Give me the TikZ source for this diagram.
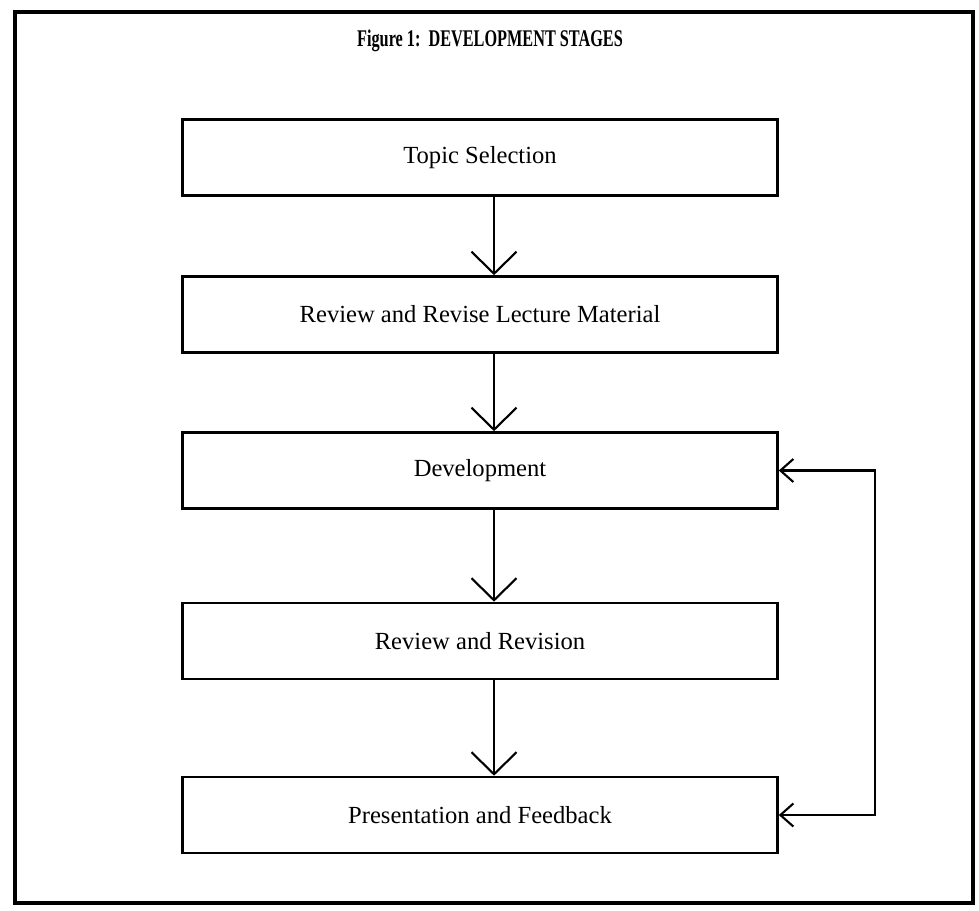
\documentclass[tikz,border=0pt]{standalone}
\usepackage{fontspec}
\setmainfont{Liberation Serif}
\newfontfamily\titlefont[FakeStretch=0.68]{Liberation Serif}
\usetikzlibrary{arrows.meta,positioning}

\begin{document}
\begin{tikzpicture}
  [
    x=0.02cm, y=-0.02cm,
    stage/.style={
      draw, line width=1.5pt,
      minimum width=11.9cm, minimum height=1.52cm,
      font=\fontsize{14}{16}\selectfont
    },
    flow/.style={
      line width=1.2pt,
      -{Straight Barb[length=0.44cm, width=0.9cm]}
    },
    fback/.style={
      line width=1.2pt,
      {Straight Barb[length=0.26cm, width=0.46cm]}-{Straight Barb[length=0.26cm, width=0.46cm]}
    },
    frame/.style={
      line width=2.6pt
    }
  ]
\useasboundingbox (0,0) rectangle (979,910);
% Frame and title
\draw [frame] (15,12) rectangle (973,903);
\node (title) at (490,41) {\titlefont\fontsize{13.6}{16}\selectfont\bfseries Figure 1:\ \ DEVELOPMENT STAGES};

% Stages
\node (topic) [stage] at (480,157.5) {Topic Selection};
\node (lect)  [stage] at (480,314.5) {Review and Revise Lecture Material};
\node (dev)   [stage] at (480,470.5) {Development};
\node (rev)   [stage] at (480,641)   {Review and Revision};
\node (pres)  [stage] at (480,815)   {Presentation and Feedback};

\draw [flow] ([xshift=0.28cm]topic.south) -- ([xshift=0.28cm]lect.north);
\draw [flow] ([xshift=0.28cm]lect.south)  -- ([xshift=0.28cm]dev.north);
\draw [flow] ([xshift=0.28cm]dev.south)   -- ([xshift=0.28cm]rev.north);
\draw [flow] ([xshift=0.28cm]rev.south)   -- ([xshift=0.28cm]pres.north);

% Feedback loop
\coordinate (fb) at (875,0);
\draw [fback] (dev.east) -- (dev.east -| fb) -- (pres.east -| fb) -- (pres.east);

\end{tikzpicture}
\end{document}
